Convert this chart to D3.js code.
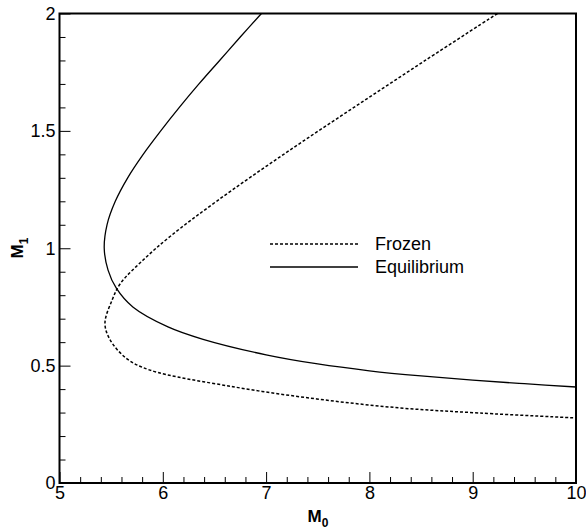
<!DOCTYPE html>
<html>
<head>
<meta charset="utf-8">
<script src="https://cdn.jsdelivr.net/npm/d3@7"></script>
<style>
body { margin: 0; background: #fff; }
svg text { font-family: "Liberation Sans", Arial, sans-serif; }
</style>
</head>
<body>
<svg id="mysvg" width="586" height="530"></svg>
<script>
// Frozen curve, ordered along the curve (M0, M1)
var frozenM0 = [9.24, 8.54, 7.85, 7.17, 6.52, 6.07, 5.81, 5.59, 5.51, 5.44, 5.49, 5.65, 5.875, 6.68, 7.49, 8.29, 9.07, 10];
var frozenM1 = [2.0, 1.8, 1.6, 1.4, 1.2, 1.05, 0.95, 0.85, 0.78, 0.68, 0.61, 0.53, 0.481, 0.41, 0.358, 0.32, 0.298, 0.277];

// Equilibrium curve
var equilM0 = [6.955, 6.75, 6.55, 6.35, 6.16, 5.98, 5.81, 5.66, 5.54, 5.46, 5.433, 5.47, 5.55, 5.71, 6.05, 6.39, 7.0, 7.5, 8.0, 8.5, 9.0, 9.5, 10];
var equilM1 = [2.0, 1.9, 1.8, 1.7, 1.6, 1.5, 1.4, 1.3, 1.2, 1.1, 1.0, 0.907, 0.83, 0.75, 0.665, 0.612, 0.546, 0.507, 0.478, 0.456, 0.438, 0.423, 0.409];

var xMajor = [5, 6, 7, 8, 9, 10];
var yMajor = [0, 0.5, 1, 1.5, 2];
var legendNames = ["Frozen", "Equilibrium"];

var plotL = 59.5, plotR = 576, plotT = 13.5, plotB = 483;

var svg = d3.select("#mysvg");

var x = d3.scaleLinear().domain([5, 10]).range([plotL, plotR]);
var y = d3.scaleLinear().domain([0, 2]).range([plotB, plotT]);

var xMinor = d3.range(5, 10.001, 0.2).filter(function (v) { return Math.abs(v - Math.round(v)) > 0.01; });
var yMinor = d3.range(0, 2.001, 0.1).filter(function (v) { return Math.abs(v * 2 - Math.round(v * 2)) > 0.01; });

// minor ticks
svg.append("g")
	.attr("transform", "translate(0," + plotB + ")")
	.call(d3.axisBottom(x).tickValues(xMinor).tickSize(-6).tickFormat(""))
	.call(function (g) { g.select(".domain").remove(); });
svg.append("g")
	.attr("transform", "translate(" + plotL + ",0)")
	.call(d3.axisLeft(y).tickValues(yMinor).tickSize(-6).tickFormat(""))
	.call(function (g) { g.select(".domain").remove(); });

// major ticks
var xAxis = svg.append("g")
	.attr("transform", "translate(0," + plotB + ")")
	.call(d3.axisBottom(x).tickValues(xMajor).tickSize(-11).tickPadding(5).tickFormat(d3.format("d")));
xAxis.select(".domain").remove();

var yAxis = svg.append("g")
	.attr("transform", "translate(" + plotL + ",0)")
	.call(d3.axisLeft(y).tickValues(yMajor).tickSize(-11).tickPadding(6).tickFormat(d3.format("~g")));
yAxis.select(".domain").remove();

svg.selectAll(".tick line").attr("stroke", "#000").attr("stroke-width", 1);
svg.selectAll(".tick text").attr("font-size", 18).attr("fill", "#000");
xAxis.selectAll(".tick text").attr("dy", "0.6em");
yAxis.selectAll(".tick text").attr("dx", "2");

// frame
svg.append("rect")
	.attr("x", plotL).attr("y", plotT)
	.attr("width", plotR - plotL).attr("height", plotB - plotT)
	.attr("fill", "none").attr("stroke", "#000").attr("stroke-width", 2);

// curves
var line = d3.line()
	.x(function (d) { return x(d[0]); })
	.y(function (d) { return y(d[1]); })
	.curve(d3.curveCatmullRom.alpha(0.5));

svg.append("path")
	.datum(d3.zip(frozenM0, frozenM1))
	.attr("d", line)
	.attr("fill", "none").attr("stroke", "#000")
	.attr("stroke-width", 1.5).attr("stroke-dasharray", "3,2");

svg.append("path")
	.datum(d3.zip(equilM0, equilM1))
	.attr("d", line)
	.attr("fill", "none").attr("stroke", "#000")
	.attr("stroke-width", 1.3);

// legend
var legend = svg.append("g");
legendNames.forEach(function (name, i) {
	var ly = 244 + i * 23;
	legend.append("line")
		.attr("x1", 270).attr("x2", 358).attr("y1", ly).attr("y2", ly)
		.attr("stroke", "#000").attr("stroke-width", 1.3)
		.attr("stroke-dasharray", i === 0 ? "3,2" : null);
	legend.append("text")
		.attr("x", 375).attr("y", ly).attr("dy", "0.35em")
		.attr("font-size", 18).text(name);
});

// axis titles
var xt = svg.append("text")
	.attr("x", 318).attr("y", 522)
	.attr("text-anchor", "middle")
	.attr("font-size", 17).attr("font-weight", "bold");
xt.append("tspan").text("M");
xt.append("tspan").attr("font-size", 12).attr("dy", 5).text("0");

var yt = svg.append("text")
	.attr("transform", "translate(23,248) rotate(-90)")
	.attr("text-anchor", "middle")
	.attr("font-size", 17).attr("font-weight", "bold");
yt.append("tspan").text("M");
yt.append("tspan").attr("font-size", 12).attr("dy", 5).text("1");
</script>
</body>
</html>
